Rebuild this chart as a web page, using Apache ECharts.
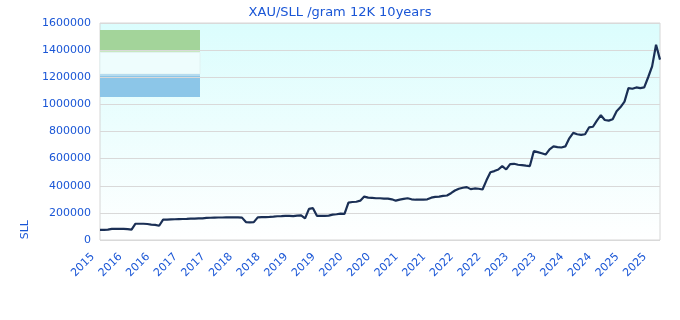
<!DOCTYPE html>
<html><head><meta charset="utf-8">
<script src="https://cdn.jsdelivr.net/npm/echarts@6/dist/echarts.min.js"></script>
<style>html,body{margin:0;padding:0;background:#fff}#c{width:680px;height:320px}</style>
</head><body><div id="c"></div>
<script>
var titleText = 'XAU/SLL /gram 12K 10years';
var yAxisName = 'SLL';
var tickLabels = ['2015','2016','2016','2017','2017','2018','2018','2019','2019','2020','2020','2021','2021','2022','2022','2023','2023','2024','2024','2025','2025'];
var prices = [
75000,75000,76000,82000,82000,82000,82000,80000,76000,120000,
120000,120000,118000,114000,112000,105000,150000,150000,152000,153000,
154000,155000,156000,158000,157000,160000,160000,163000,164000,165000,
166000,166000,167000,167000,167000,167000,165000,132000,130000,132000,167000,
168000,169000,170000,172000,175000,176000,178000,178000,176000,180000,
182000,160000,230000,235000,178000,178000,178000,180000,187000,190000,
195000,192000,275000,280000,282000,290000,320000,312000,310000,308000,
308000,305000,305000,300000,290000,298000,303000,308000,300000,297000,
298000,298000,300000,312000,318000,320000,325000,328000,345000,365000,
378000,385000,390000,375000,380000,378000,372000,440000,500000,508000,
520000,545000,520000,560000,562000,555000,552000,548000,545000,655000,648000,
640000,630000,668000,690000,685000,682000,690000,750000,790000,780000,
775000,780000,830000,835000,880000,920000,885000,880000,890000,950000,
980000,1020000,1120000,1115000,1125000,1120000,1125000,1200000,1280000,1440000,
1330000];
var perLabel = 7;
var categories = prices.map(function(_, i){ return i; });

var chart = echarts.init(document.getElementById('c'));
var blue = '#1a56d6';
chart.setOption({
  animation: false,
  title: { text: titleText, left: 'center', top: 1, textStyle: { color: blue, fontSize: 13, fontWeight: 'normal', fontFamily: 'DejaVu Sans' } },
  grid: { left: 100, right: 20, top: 23, bottom: 80, show: true, borderColor: '#d6d6d6', borderWidth: 1,
    backgroundColor: new echarts.graphic.LinearGradient(0,0,0,1,[{offset:0,color:'#dbfdfd'},{offset:1,color:'#ffffff'}]) },
  xAxis: { type: 'category', data: categories, boundaryGap: false,
    axisLine: { show: false }, axisTick: { show: false }, splitLine: { show: false },
    axisLabel: { interval: perLabel - 1, rotate: 45, color: blue, fontSize: 11, fontFamily: 'DejaVu Sans', margin: 8,
      padding: [0, 10, 0, 0],
      formatter: function(v){ return tickLabels[Math.round(v / perLabel)] || ''; } } },
  yAxis: { type: 'value', min: 0, max: 1600000, interval: 200000,
    axisLine: { show: false }, axisTick: { show: false },
    splitLine: { lineStyle: { color: '#d9d9d9' } },
    axisLabel: { color: blue, fontSize: 11, fontFamily: 'DejaVu Sans', margin: 9, formatter: function(v){ return String(v); } } },
  graphic: [
    { type: 'rect', shape: { x: 100, y: 30, width: 100, height: 21 }, style: { fill: '#a3d49a' } },
    { type: 'rect', shape: { x: 100, y: 51, width: 100, height: 1.5 }, style: { fill: '#c8e8c0' } },
    { type: 'rect', shape: { x: 100, y: 52.5, width: 100, height: 21.5 }, style: { fill: '#eefdfd', stroke: '#e2f2f2', lineWidth: 1 } },
    { type: 'rect', shape: { x: 100, y: 74, width: 100, height: 2 }, style: { fill: '#b6dcef' } },
    { type: 'rect', shape: { x: 100, y: 76, width: 100, height: 21 }, style: { fill: '#8cc6e8' } },
    { type: 'text', left: 20, top: 220, rotation: Math.PI / 2, style: { text: yAxisName, fill: blue, fontSize: 11, fontFamily: 'DejaVu Sans' } }
  ],
  series: [{ type: 'line', data: prices, showSymbol: false,
    lineStyle: { color: '#1a2f55', width: 2.2 } }]
});
</script></body></html>
